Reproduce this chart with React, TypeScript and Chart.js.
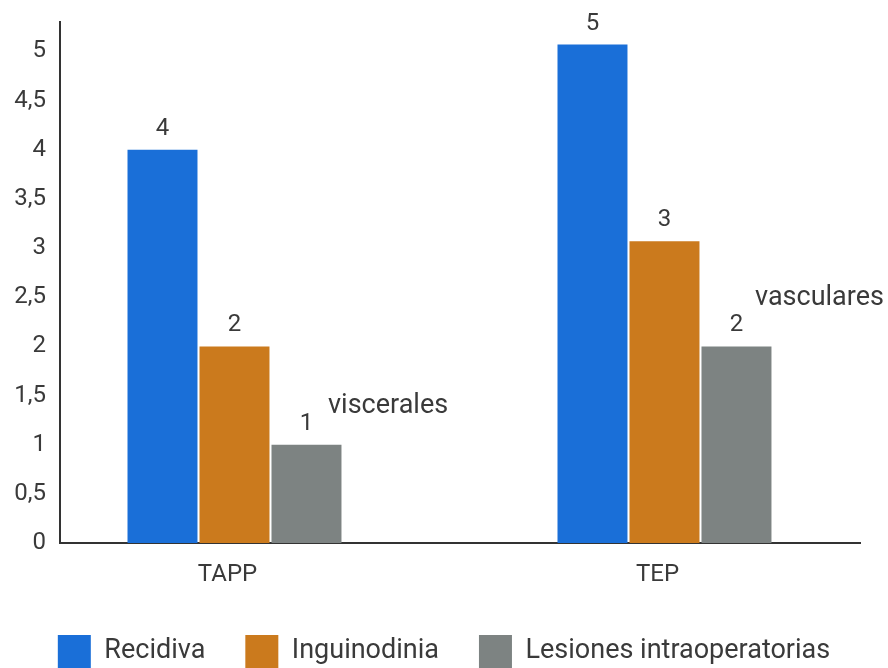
import React, { useEffect, useRef } from "react";
import { Chart, registerables } from "chart.js";

Chart.register(...registerables);

// ---- data ----
const categories = ["TAPP", "TEP"];
const seriesNames = ["Recidiva", "Inguinodinia", "Lesiones intraoperatorias"];
const recidiva = [4, 5.07];
const inguinodinia = [2, 3.07];
const lesiones = [1, 2];
const recidivaLabels = ["4", "5"];
const inguinodiniaLabels = ["2", "3"];
const lesionesLabels = ["1", "2"];
const yTickValues = [0, 0.5, 1, 1.5, 2, 2.5, 3, 3.5, 4, 4.5, 5];
const annotationTexts = ["viscerales", "vasculares"];
const annotationX = [0.2175, 1.2105];
const annotationY = [1.32, 2.42];

const seriesColors = ["#1a6fd8", "#cb7a1d", "#7d8382"];
const TEXT = "#3a3a3a";
const FONT = "Roboto";

const valueLabels = [recidivaLabels, inguinodiniaLabels, lesionesLabels];

const labelPlugin = {
  id: "valueLabels",
  afterDatasetsDraw(chart: any) {
    const ctx = chart.ctx;
    ctx.save();
    ctx.font = `24px ${FONT}`;
    ctx.fillStyle = TEXT;
    ctx.textAlign = "center";
    ctx.textBaseline = "middle";
    chart.data.datasets.forEach((_ds: any, di: number) => {
      const meta = chart.getDatasetMeta(di);
      meta.data.forEach((bar: any, i: number) => {
        ctx.fillText(valueLabels[di][i], bar.x, bar.y - 21);
      });
    });
    ctx.font = `27px ${FONT}`;
    ctx.textAlign = "left";
    ctx.textBaseline = "alphabetic";
    annotationTexts.forEach((t, i) => {
      ctx.fillText(
        t,
        chart.scales.x.getPixelForValue(annotationX[i]),
        chart.scales.y.getPixelForValue(annotationY[i])
      );
    });
    ctx.restore();
  },
};

export default function App() {
  const ref = useRef<HTMLCanvasElement | null>(null);

  useEffect(() => {
    if (!ref.current) return;
    const series = [recidiva, inguinodinia, lesiones];
    const chart = new Chart(ref.current, {
      type: "bar",
      data: {
        datasets: series.map((vals, si) => ({
          label: seriesNames[si],
          data: vals.map((v, i) => ({ x: i, y: v })),
          backgroundColor: seriesColors[si],
          borderWidth: 0,
          categoryPercentage: 0.5023,
          barPercentage: 0.972,
        })),
      },
      options: {
        responsive: false,
        animation: false,
        layout: { padding: { top: 22, left: 0, right: 0, bottom: -10 } },
        font: { family: FONT },
        plugins: {
          tooltip: { enabled: false },
          legend: {
            position: "bottom",
            labels: {
              boxWidth: 33,
              boxHeight: 33,
              padding: 40,
              color: TEXT,
              font: { family: FONT, size: 27 },
            },
          },
        },
        scales: {
          x: {
            type: "linear",
            position: "bottom",
            min: -0.4058,
            max: 1.4547,
            offset: false,
            grid: { display: false, drawTicks: false },
            border: { display: true, color: "#333", width: 2 },
            afterBuildTicks: (s: any) => {
              s.ticks = categories.map((_c, i) => ({ value: i }));
            },
            afterFit: (s: any) => {
              s.height = 52;
              s.paddingLeft = 0;
              s.paddingRight = 0;
            },
            ticks: {
              padding: 18,
              labelOffset: -7,
              maxRotation: 0,
              autoSkip: false,
              color: TEXT,
              font: { family: FONT, size: 24 },
              callback: (v: any) => categories[Math.round(Number(v))] ?? "",
            },
          },
          y: {
            type: "linear",
            position: "left",
            min: 0,
            max: 5.3,
            grid: { display: false, drawTicks: false },
            border: { display: true, color: "#333", width: 2 },
            afterBuildTicks: (s: any) => {
              s.ticks = yTickValues.map((v) => ({ value: v }));
            },
            afterFit: (s: any) => {
              s.width = 60;
              s.paddingTop = 0;
              s.paddingBottom = 0;
            },
            ticks: {
              padding: 14,
              color: TEXT,
              font: { family: FONT, size: 24 },
              callback: (v: any) => String(v).replace(".", ","),
            },
          },
          yR: {
            type: "linear",
            position: "right",
            display: true,
            grid: { display: false, drawTicks: false },
            border: { display: false },
            ticks: { display: false },
            afterFit: (s: any) => {
              s.width = 28;
              s.paddingTop = 0;
              s.paddingBottom = 0;
            },
          },
        },
      } as any,
      plugins: [labelPlugin],
    });
    return () => chart.destroy();
  }, []);

  return (
    <div style={{ position: "fixed", left: 0, top: 0, width: 888, height: 668, background: "#fff" }}>
      <canvas ref={ref} width={888} height={668} style={{ display: "block", width: 888, height: 668 }} />
    </div>
  );
}
